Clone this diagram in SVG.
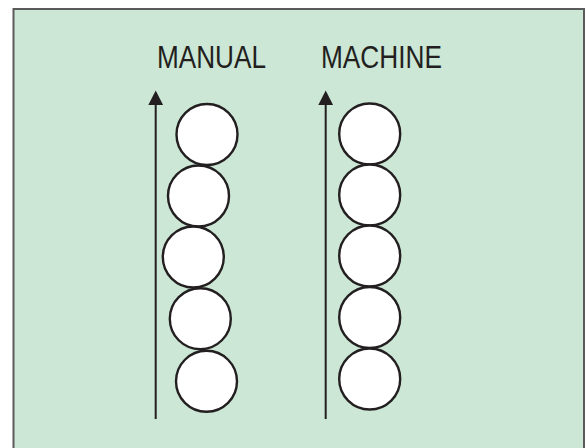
<svg xmlns="http://www.w3.org/2000/svg" width="588" height="448" viewBox="0 0 588 448">
<style>
.bg{fill:#cce7d5;stroke:#5a5a5a;stroke-width:2}
.c{fill:#ffffff;stroke:#231f20;stroke-width:2.4}
.ln{stroke:#231f20;stroke-width:2;fill:none}
.ah{fill:#231f20}
.lbl{font-family:"Liberation Sans",Arial,sans-serif;font-size:31px;fill:#231f20}
</style>
<rect class="bg" x="13.5" y="9" width="570.5" height="445"/>
<g id="label-manual"><text class="lbl" x="157" y="68" textLength="109" lengthAdjust="spacingAndGlyphs">MANUAL</text></g>
<g id="label-machine"><text class="lbl" x="321" y="68" textLength="121" lengthAdjust="spacingAndGlyphs">MACHINE</text></g>
<g id="connectors">
<line class="ln" x1="155.7" y1="419" x2="155.7" y2="102"/>
<polygon class="ah" points="155.7,90.5 148.3,105 163.1,105"/>
<line class="ln" x1="325.7" y1="419" x2="325.7" y2="102"/>
<polygon class="ah" points="325.7,90.5 318.3,105 333.1,105"/>
</g>
<g id="manual-1"><circle class="c" cx="207" cy="134.5" r="30.5"/></g>
<g id="manual-2"><circle class="c" cx="198.5" cy="196" r="30.5"/></g>
<g id="manual-3"><circle class="c" cx="193.3" cy="257" r="30.5"/></g>
<g id="manual-4"><circle class="c" cx="200.3" cy="318.7" r="30.5"/></g>
<g id="manual-5"><circle class="c" cx="206.5" cy="381.3" r="30.5"/></g>
<g id="machine-1"><circle class="c" cx="369.7" cy="134" r="30.5"/></g>
<g id="machine-2"><circle class="c" cx="369.7" cy="195" r="30.5"/></g>
<g id="machine-3"><circle class="c" cx="369.7" cy="256" r="30.5"/></g>
<g id="machine-4"><circle class="c" cx="369.7" cy="317.5" r="30.5"/></g>
<g id="machine-5"><circle class="c" cx="369.7" cy="379" r="30.5"/></g>
</svg>
